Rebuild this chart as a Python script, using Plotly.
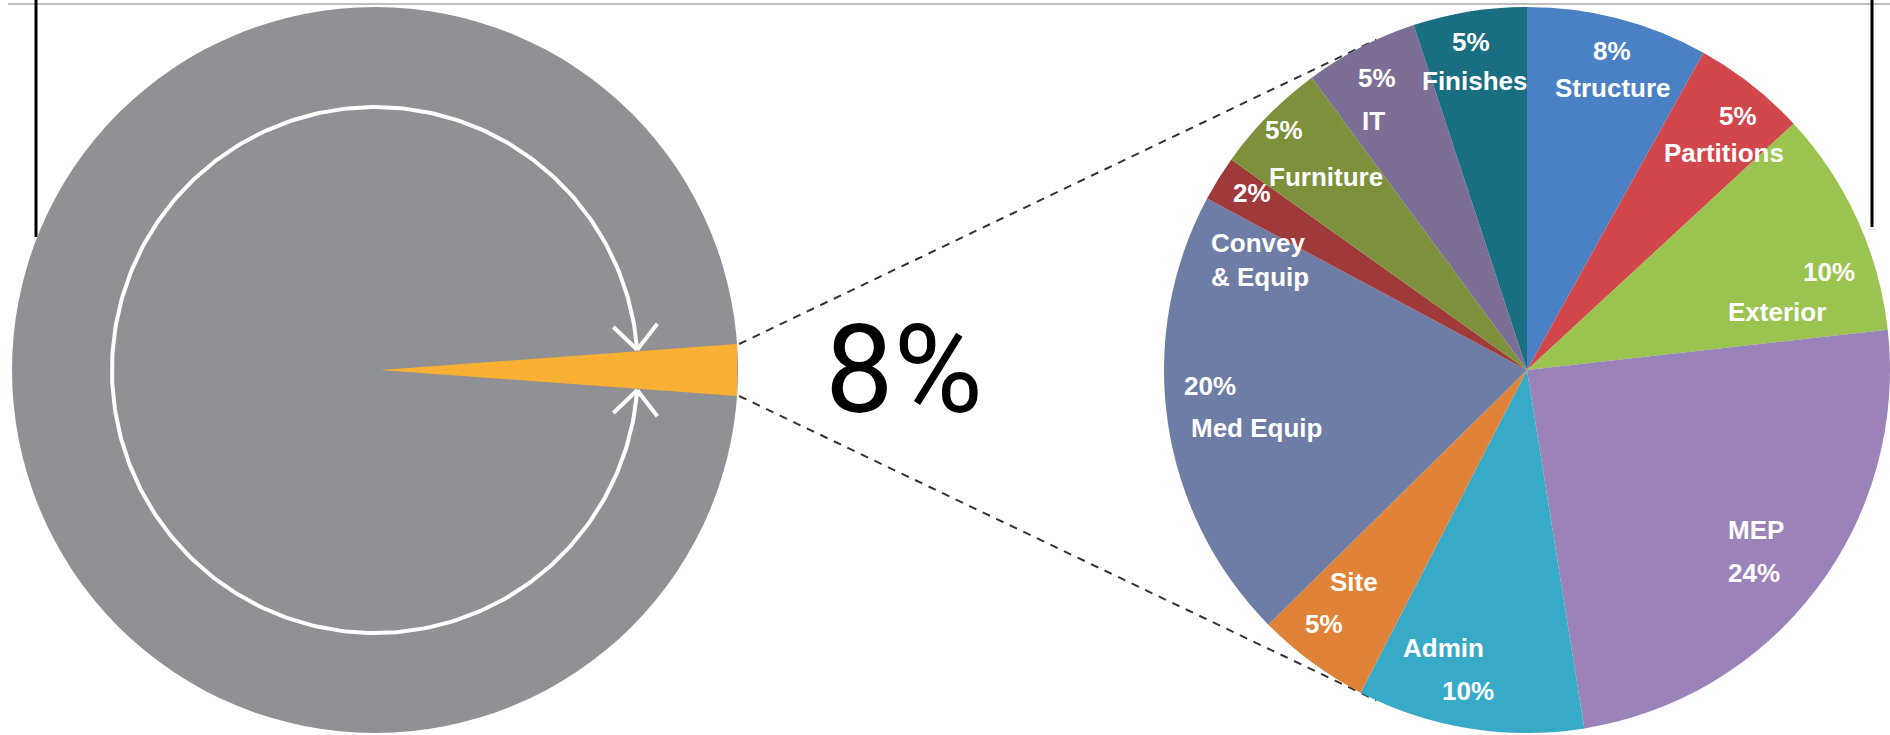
import math
import plotly.graph_objects as go

# ---- data -------------------------------------------------------------
categories = ["Structure", "Partitions", "Exterior", "MEP", "Admin", "Site",
              "Med Equip", "Convey<br>& Equip", "Furniture", "IT", "Finishes"]
shares = [8, 5, 10, 24, 10, 5, 20, 2, 5, 5, 5]
highlight_share = 8

# ---- style ------------------------------------------------------------
slice_colors = ["#4A80C4", "#D2474C", "#9BC350", "#9B82B9", "#37AAC8", "#E08237",
                "#6E7DA5", "#A03A3A", "#7D913C", "#7D6E96", "#1A6E82"]
disc_color = "#8F9194"
wedge_color = "#FAB032"
label_font = dict(family="Liberation Sans, Arial, sans-serif", size=26, color="white")
big_font = dict(family="Roboto, Liberation Sans, sans-serif", size=122, color="black")

W, H = 1890, 735

# overview disc (left)
disc_cx, disc_cy, disc_r = 375, 370, 363
ring_r = 263
ring_gap_deg = 4.4          # half-gap of the white ring around the wedge
wedge_half_h = 26           # half-height of the wedge at the rim
arrow_len, arrow_spread = 33, 42

# breakdown pie (right)
pie_x0 = 1164
pie_r = 363
pie_cx, pie_cy = pie_x0 + pie_r, 370
callout_deg = 24.5          # where the dashed callout lines meet the pie rim

# label offsets from the pie centre, as fractions of the radius:
# (pct_dx, pct_dy, name_dx, name_dy, name_anchor)
label_pos = [
    (0.234, -0.879, 0.237, -0.777, "center"),
    (0.581, -0.700, 0.543, -0.598, "center"),
    (0.832, -0.270, 0.689, -0.160, "center"),
    (0.625, 0.559, 0.631, 0.441, "center"),
    (-0.163, 0.884, -0.229, 0.766, "center"),
    (-0.559, 0.700, -0.477, 0.584, "center"),
    (-0.873, 0.044, -0.744, 0.160, "center"),
    (-0.758, -0.488, -0.876, -0.303, "left"),
    (-0.669, -0.661, -0.554, -0.532, "center"),
    (-0.413, -0.804, -0.424, -0.686, "center"),
    (-0.154, -0.904, -0.146, -0.796, "center"),
]

fig = go.Figure()

# white ring with a gap around the wedge
n = 400
angs = [math.radians(ring_gap_deg + (360 - 2 * ring_gap_deg) * i / (n - 1)) for i in range(n)]
fig.add_trace(go.Scatter(
    x=[disc_cx + ring_r * math.cos(a) for a in angs],
    y=[disc_cy - ring_r * math.sin(a) for a in angs],
    mode="lines", line=dict(color="white", width=4), hoverinfo="skip", showlegend=False))

# arrow heads at both ends of the ring, pointing at the wedge
for sign in (1, -1):
    phi = math.radians(sign * ring_gap_deg)
    tx, ty = disc_cx + ring_r * math.cos(phi), disc_cy - ring_r * math.sin(phi)
    # direction back along the ring (screen coords)
    bx, by = -math.sin(phi) * sign, -math.cos(phi) * sign
    xs, ys = [], []
    for s in (1, -1):
        t = math.radians(s * arrow_spread)
        ax = bx * math.cos(t) - by * math.sin(t)
        ay = bx * math.sin(t) + by * math.cos(t)
        xs += [tx + arrow_len * ax, tx, None]
        ys += [ty + arrow_len * ay, ty, None]
    fig.add_trace(go.Scatter(x=xs, y=ys, mode="lines",
                             line=dict(color="white", width=4),
                             hoverinfo="skip", showlegend=False))

# dashed callout lines from the wedge to the pie
rim_x = disc_cx + math.sqrt(disc_r ** 2 - wedge_half_h ** 2)
for sign in (-1, 1):
    ex = pie_cx - pie_r * math.sin(math.radians(callout_deg))
    ey = pie_cy + sign * pie_r * math.cos(math.radians(callout_deg))
    fig.add_trace(go.Scatter(x=[rim_x + 2, ex], y=[disc_cy + sign * wedge_half_h, ey],
                             mode="lines",
                             line=dict(color="#333333", width=2, dash="8px,7px"),
                             hoverinfo="skip", showlegend=False))

# breakdown pie
fig.add_trace(go.Pie(
    labels=categories, values=shares, sort=False, direction="clockwise", rotation=0,
    marker=dict(colors=slice_colors, line=dict(width=0)),
    textinfo="none", hoverinfo="label+percent", showlegend=False,
    domain=dict(x=[pie_x0 / W, 1], y=[(H - pie_cy - pie_r) / H, (H - pie_cy + pie_r) / H]),
))

shapes = [
    # frame lines
    dict(type="line", x0=8, x1=W, y0=4, y1=4, line=dict(color="#AAAAAA", width=1.5), layer="below"),
    dict(type="line", x0=36, x1=36, y0=0, y1=237, line=dict(color="black", width=3), layer="below"),
    dict(type="line", x0=1872, x1=1872, y0=0, y1=227, line=dict(color="black", width=3), layer="below"),
    # overview disc and highlighted wedge
    dict(type="circle", x0=disc_cx - disc_r, x1=disc_cx + disc_r,
         y0=disc_cy - disc_r, y1=disc_cy + disc_r,
         fillcolor=disc_color, line=dict(width=0), layer="below"),
    dict(type="path",
         path=f"M {disc_cx + 5},{disc_cy} L {rim_x},{disc_cy - wedge_half_h} "
              f"L {rim_x},{disc_cy + wedge_half_h} Z",
         fillcolor=wedge_color, line=dict(width=0), layer="below"),
]

annotations = [dict(x=904, y=370, text=f"{highlight_share}%", showarrow=False,
                    font=big_font, xanchor="center", yanchor="middle")]
for name, val, (pdx, pdy, ndx, ndy, anchor) in zip(categories, shares, label_pos):
    annotations.append(dict(x=pie_cx + pdx * pie_r, y=pie_cy + pdy * pie_r,
                            text=f"<b>{val}%</b>", showarrow=False, font=label_font))
    annotations.append(dict(x=pie_cx + ndx * pie_r, y=pie_cy + ndy * pie_r,
                            text=f"<b>{name}</b>", showarrow=False, font=label_font,
                            xanchor=anchor, align="left" if anchor == "left" else "center"))

fig.update_layout(
    width=W, height=H, margin=dict(l=0, r=0, t=0, b=0),
    paper_bgcolor="white", plot_bgcolor="white",
    xaxis=dict(range=[0, W], visible=False, domain=[0, 1], fixedrange=True),
    yaxis=dict(range=[H, 0], visible=False, domain=[0, 1], fixedrange=True),
    shapes=shapes, annotations=annotations,
)

fig.write_html("out.html")
